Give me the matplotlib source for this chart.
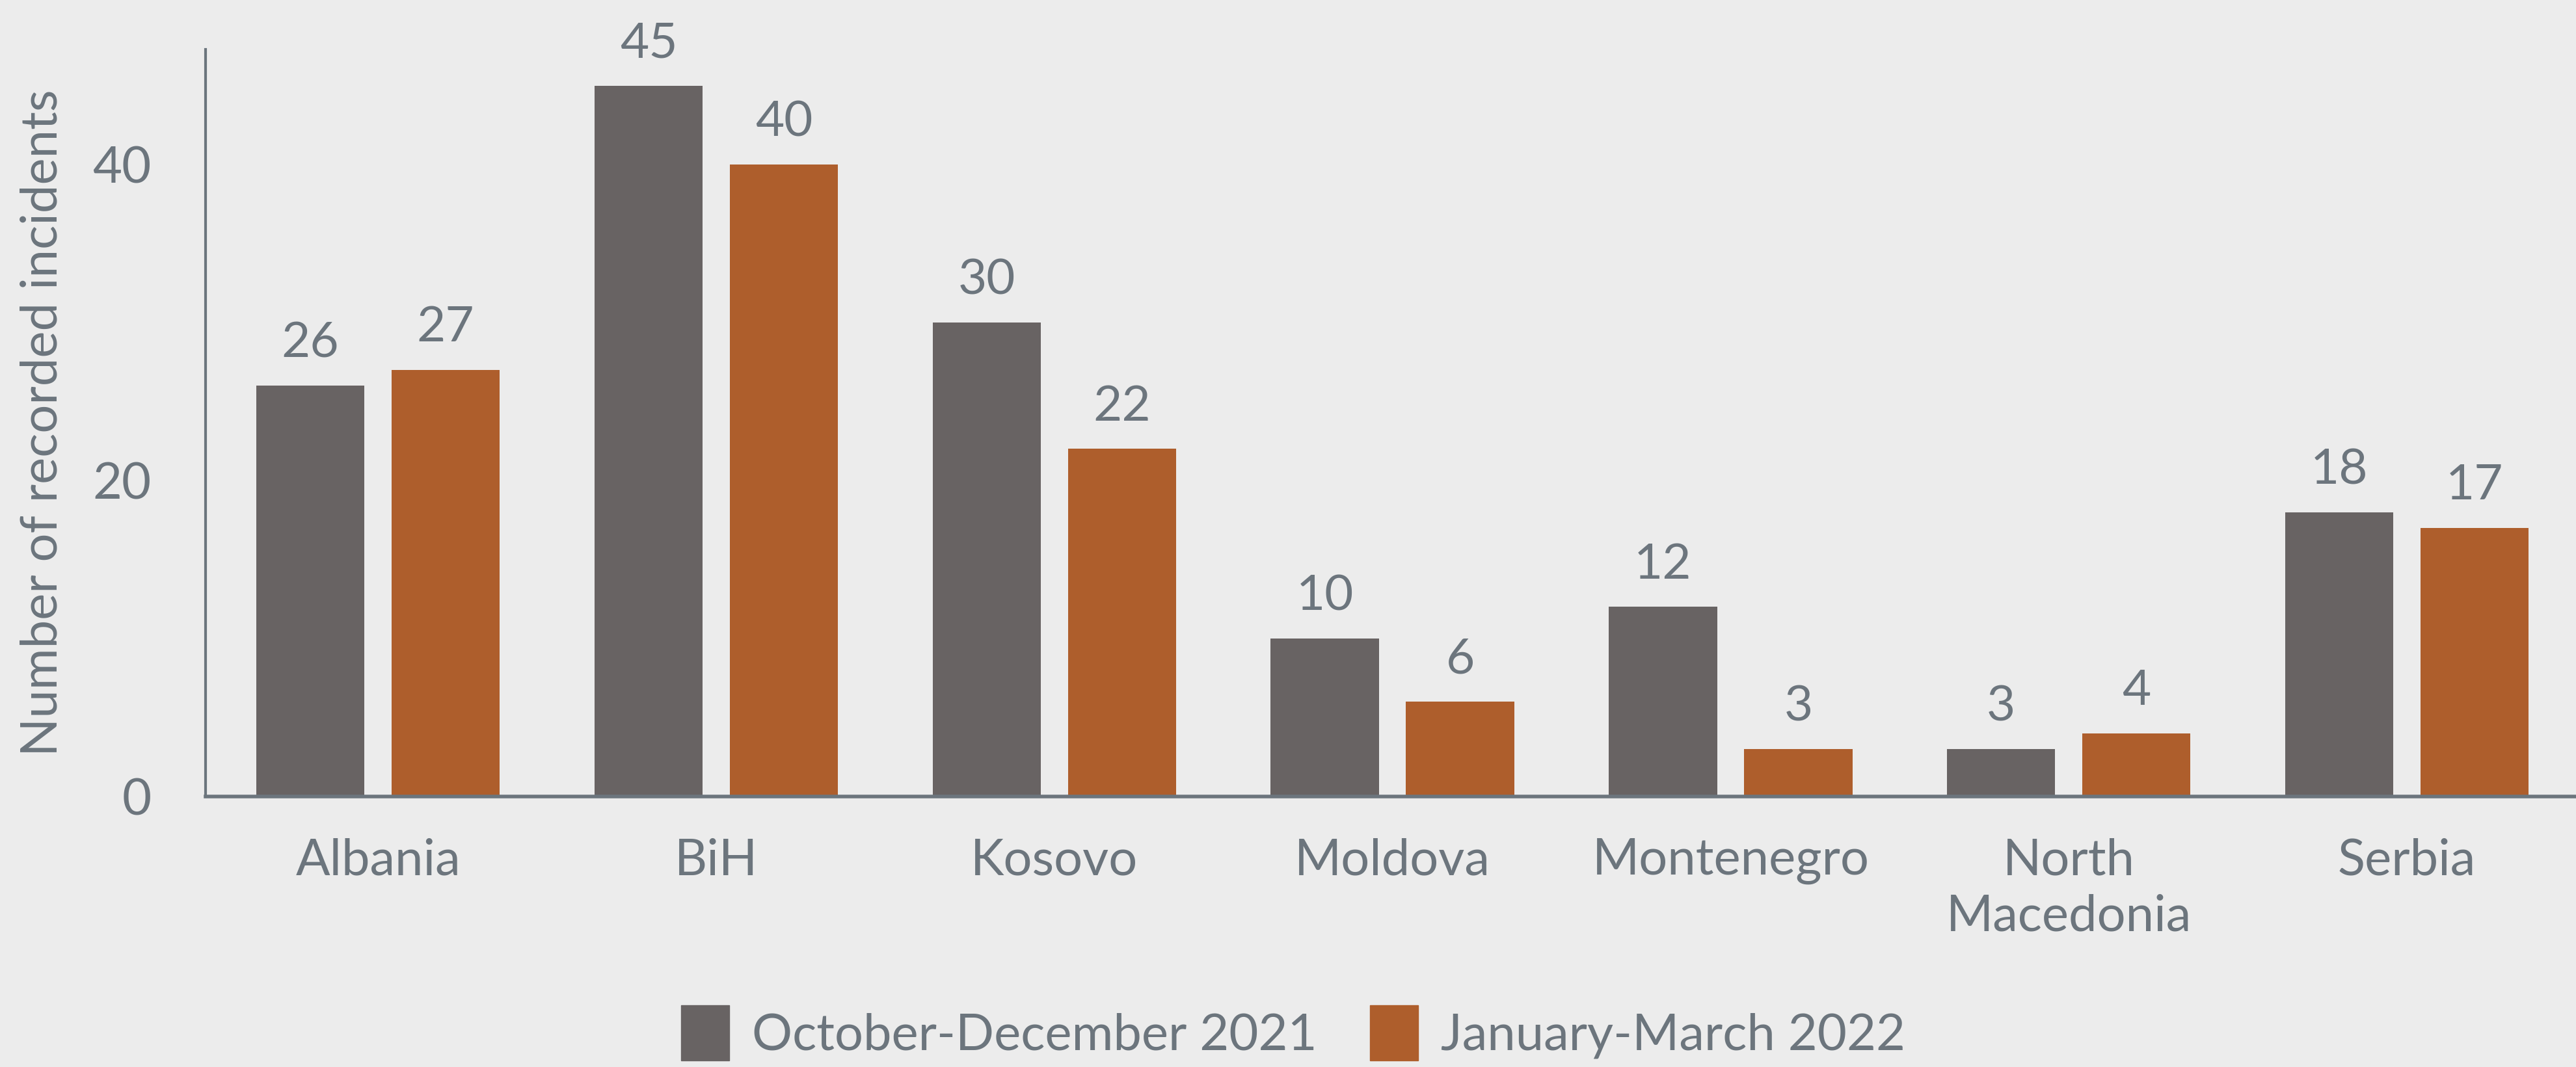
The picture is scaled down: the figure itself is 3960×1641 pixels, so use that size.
import numpy as np
import matplotlib.pyplot as plt
from matplotlib.patches import Patch

# data
countries = ['Albania', 'BiH', 'Kosovo', 'Moldova', 'Montenegro', 'North\nMacedonia', 'Serbia']
oct_dec_2021 = [26, 45, 30, 10, 12, 3, 18]
jan_mar_2022 = [27, 40, 22, 6, 3, 4, 17]
series_names = ['October-December 2021', 'January-March 2022']

bg = '#ececec'
txt = '#6c757d'
c_gray = '#686363'
c_orange = '#ae5e2c'

plt.rcParams['font.family'] = ['Lato', 'DejaVu Sans']

fig = plt.figure(figsize=(39.6, 16.41), dpi=100, facecolor=bg)
ax = fig.add_axes([0.0798, 0.2535, 0.9202, 0.7003])
ax.set_facecolor(bg)

x = np.arange(len(countries))
w = 0.32
off = 0.2
b1 = ax.bar(x - off, oct_dec_2021, w, color=c_gray)
b2 = ax.bar(x + off, jan_mar_2022, w, color=c_orange)

# value labels above bars
for bars, vals in ((b1, oct_dec_2021), (b2, jan_mar_2022)):
    for r, v in zip(bars, vals):
        ax.annotate(str(v), (r.get_x() + r.get_width() / 2, v),
                    xytext=(0, 22), textcoords='offset points',
                    ha='center', va='bottom', fontsize=55, color=txt)

ax.set_xlim(-0.51, 6.5)
ax.set_ylim(0, 47.3)
ax.set_yticks([0, 20, 40])
ax.set_xticks(x)
ax.set_xticklabels(countries, linespacing=1.25)
ax.tick_params(axis='both', length=0, labelsize=56, labelcolor=txt)
ax.tick_params(axis='y', pad=60)
ax.tick_params(axis='x', pad=46)

for s in ('top', 'right'):
    ax.spines[s].set_visible(False)
ax.spines['left'].set_color(txt)
ax.spines['left'].set_linewidth(3)
ax.spines['bottom'].set_color(txt)
ax.spines['bottom'].set_linewidth(4)

ax.set_ylabel('Number of recorded incidents', fontsize=56, color=txt)
ax.yaxis.set_label_coords(-0.059, 0.5)

handles = [Patch(color=c_gray), Patch(color=c_orange)]
fig.legend(handles, series_names, loc='upper center', bbox_to_anchor=(0.502, 0.058),
           frameon=False, ncol=2, fontsize=56, labelcolor=txt,
           handlelength=0.95, handleheight=1.3, handletextpad=0.45,
           columnspacing=1.05, borderpad=0, borderaxespad=0)

fig.savefig('out.png', dpi=100, facecolor=bg)
